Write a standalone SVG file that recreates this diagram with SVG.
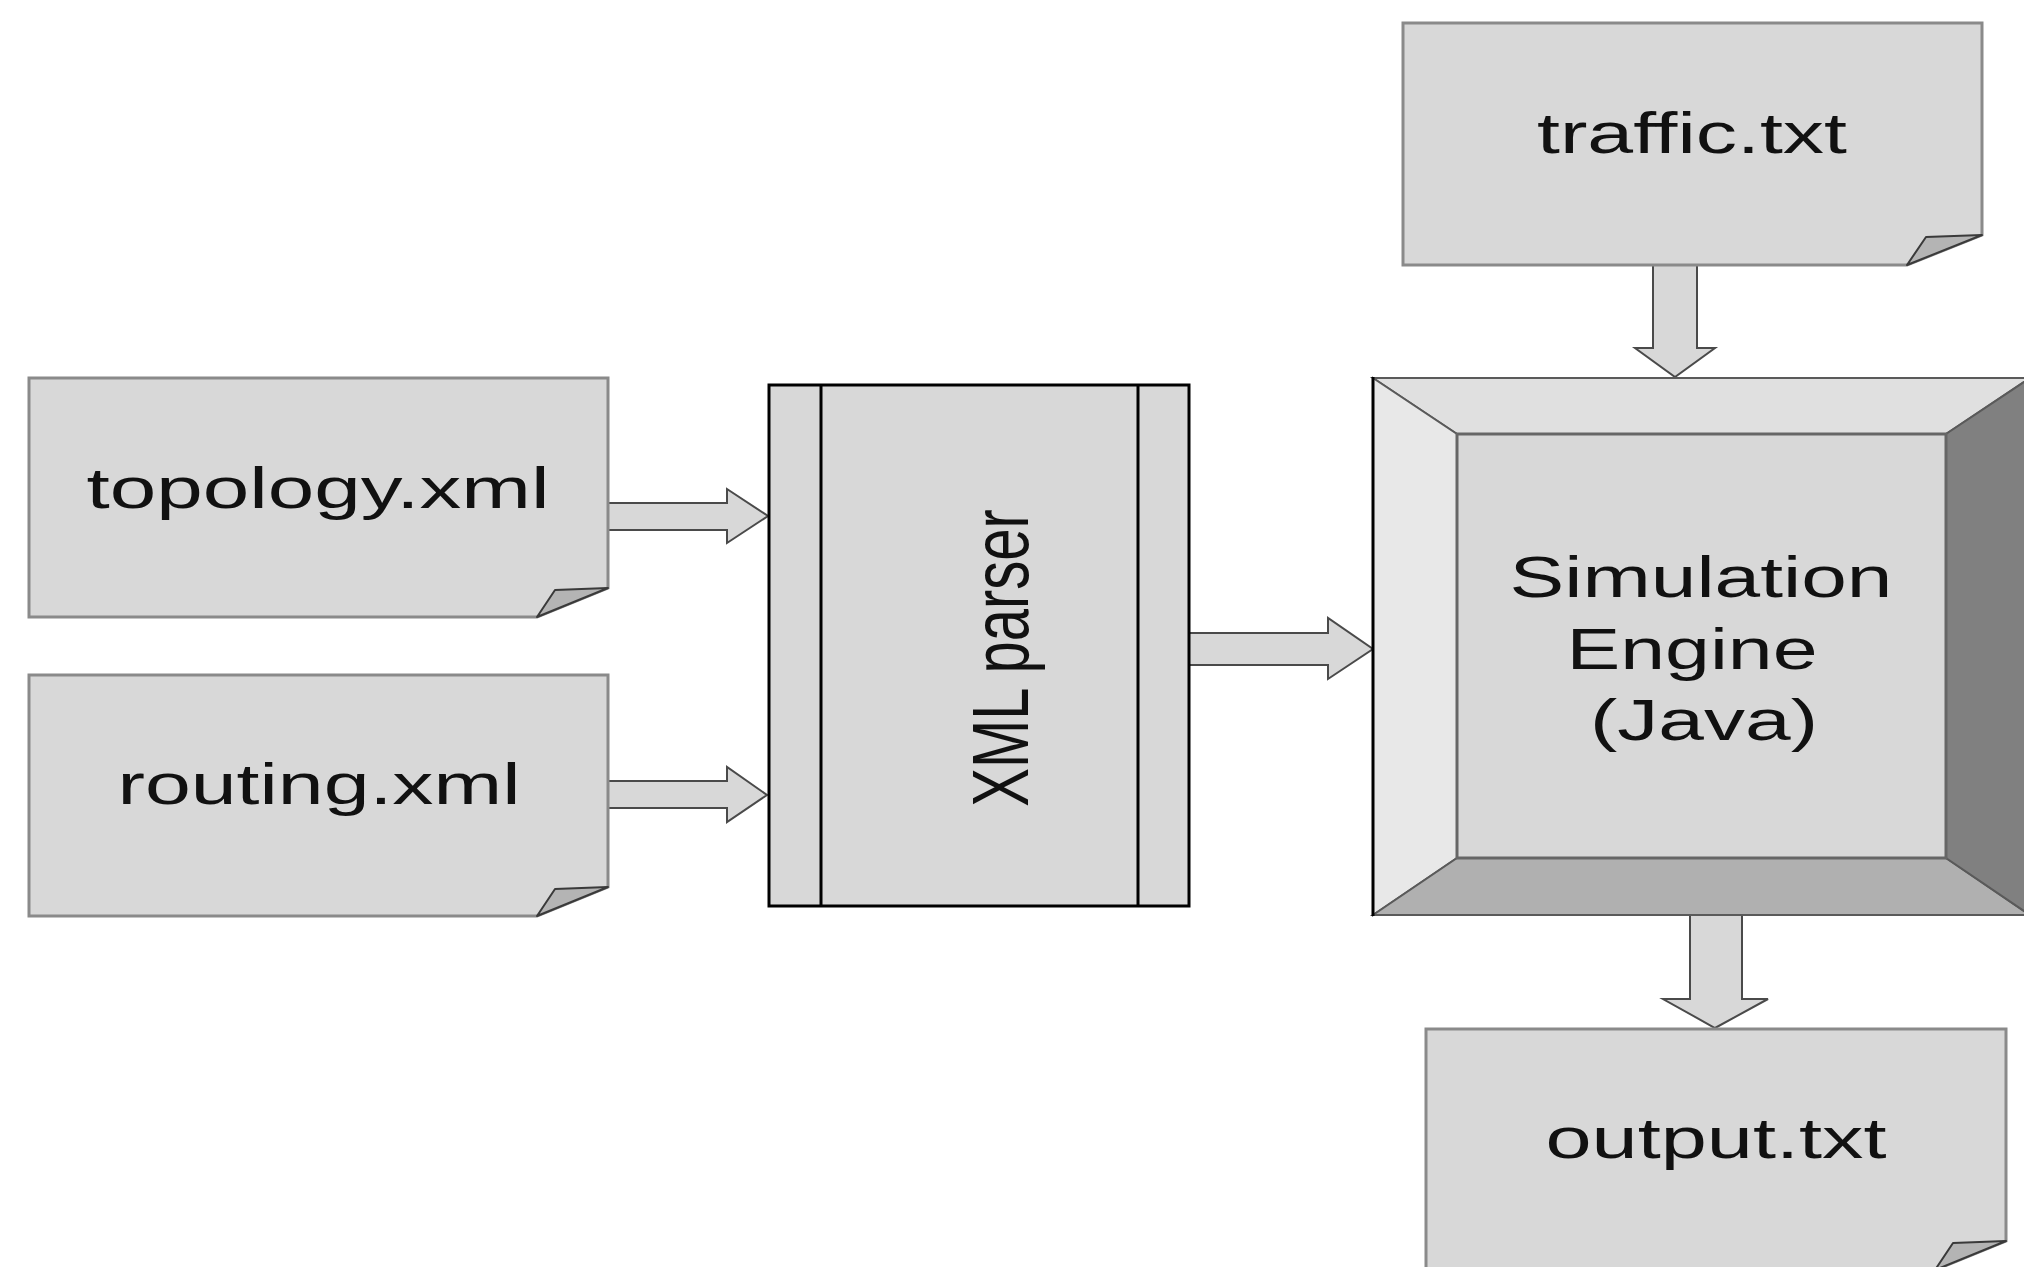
<svg xmlns="http://www.w3.org/2000/svg" width="2024" height="1267" viewBox="0 0 2024 1267">
<style>
.doc{fill:#d8d8d8;stroke:#8a8a8a;stroke-width:3;stroke-linejoin:miter}
.curl{fill:#b4b4b4;stroke:#3a3a3a;stroke-width:2;stroke-linejoin:round}
.lbl{font-family:"Liberation Sans",Arial,sans-serif;font-size:58px;fill:#111;text-anchor:middle}
.arrow{fill:#d8d8d8;stroke:#4a4a4a;stroke-width:2;stroke-linejoin:miter}
.bev{stroke:#5a5a5a;stroke-width:2;stroke-linejoin:miter}
</style>
<rect width="2024" height="1267" fill="#ffffff"/>
<g id="connectors">
<path class="arrow" d="M608,503 H727 V489 L768,516 L727,543 V530 H608 Z"/>
<path class="arrow" d="M608,781 H727 V767 L767,795 L727,822 V808 H608 Z"/>
<path class="arrow" d="M1189,633 H1328 V618 L1373,649 L1328,679 V665 H1189 Z"/>
<path class="arrow" d="M1653,265 V348 H1635 L1675,377 L1715,348 H1697 V265 Z"/>
<path class="arrow" d="M1690,915 V999 H1663 L1715,1028 L1768,999 H1742 V915 Z"/>
</g>
<g id="topology">
<path class="doc" d="M29,378 H608 V588 L537,617 H29 Z"/>
<path class="curl" d="M608,588 L555,590 L537,617 Z"/>
<text class="lbl" x="318" y="508" textLength="463" lengthAdjust="spacingAndGlyphs">topology.xml</text>
</g>
<g id="routing">
<path class="doc" d="M29,675 H608 V887 L537,916 H29 Z"/>
<path class="curl" d="M608,887 L555,889 L537,916 Z"/>
<text class="lbl" x="319" y="804" textLength="403" lengthAdjust="spacingAndGlyphs">routing.xml</text>
</g>
<g id="traffic">
<path class="doc" d="M1403,23 H1982 V235 L1907,265 H1403 Z"/>
<path class="curl" d="M1982,235 L1926,237 L1907,265 Z"/>
<text class="lbl" x="1692" y="153" textLength="310" lengthAdjust="spacingAndGlyphs">traffic.txt</text>
</g>
<g id="output">
<path class="doc" d="M1426,1029 H2006 V1241 L1935,1270 H1426 Z"/>
<path class="curl" d="M2006,1241 L1953,1243 L1935,1270 Z"/>
<text class="lbl" x="1716" y="1158" textLength="341" lengthAdjust="spacingAndGlyphs">output.txt</text>
</g>
<g id="xml-parser">
<rect x="769" y="385" width="420" height="521" fill="#d8d8d8" stroke="#000" stroke-width="3"/>
<line x1="821" y1="385" x2="821" y2="906" stroke="#000" stroke-width="3"/>
<line x1="1138" y1="385" x2="1138" y2="906" stroke="#000" stroke-width="3"/>
<text class="lbl" transform="translate(1028,658) rotate(-90) scale(1,1.38)" x="0" y="0">XML parser</text>
</g>
<g id="simulation-engine">
<polygon class="bev" points="1373,378 2030,378 1946,434 1457,434" fill="#e0e0e0"/>
<polygon class="bev" points="1373,378 1457,434 1457,858 1373,915" fill="#e8e8e8"/>
<polygon class="bev" points="1373,915 1457,858 1946,858 2030,915" fill="#b0b0b0"/>
<polygon class="bev" points="2030,378 2030,915 1946,858 1946,434" fill="#808080"/>
<rect x="1457" y="434" width="489" height="424" fill="#d8d8d8" stroke="#666" stroke-width="3"/>
<line x1="1373" y1="377" x2="1373" y2="916" stroke="#000" stroke-width="3"/>
<text class="lbl" x="1701" y="597" textLength="383" lengthAdjust="spacingAndGlyphs">Simulation</text>
<text class="lbl" x="1692" y="669" textLength="251" lengthAdjust="spacingAndGlyphs">Engine</text>
<text class="lbl" x="1704" y="740" textLength="228" lengthAdjust="spacingAndGlyphs">(Java)</text>
</g>
</svg>
